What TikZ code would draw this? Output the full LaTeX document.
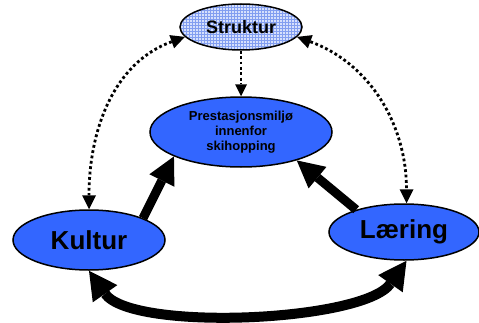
\documentclass[tikz,border=0pt]{standalone}
\usepackage{fontspec}
\setmainfont{Liberation Sans}
\usetikzlibrary{shapes.geometric,arrows.meta,patterns}
\definecolor{nodeblue}{RGB}{51,102,255}
\definecolor{gridbase}{RGB}{214,224,252}
\definecolor{gridline}{RGB}{130,158,240}
\begin{document}
\begin{tikzpicture}[x=1pt,y=1pt,
  oval/.style={ellipse, draw=black, line width=1.5pt, fill=nodeblue,
    inner sep=0pt, align=center},
  dotlink/.style={line width=2.8pt, dash pattern=on 2.8pt off 2.6pt},
  thicklink/.style={line width=9pt}
]
\useasboundingbox (0,0) rectangle (479,322);

% the four themes
\node[oval, fill=none, preaction={fill=gridbase},
  pattern=grid, pattern color=gridline,
  minimum width=122pt, minimum height=46pt,
  font=\fontsize{18}{20}\selectfont\bfseries] (struk) at (241,295) {Struktur};
\node[oval, minimum width=182pt, minimum height=70pt,
  font=\fontsize{13}{15}\selectfont\bfseries] (prest) at (241,190)
  {Prestasjonsmiljø\\innenfor\\skihopping};
\node[oval, minimum width=152pt, minimum height=60pt,
  font=\fontsize{26}{28}\selectfont\bfseries] (kult) at (89,82) {Kultur};
\node[oval, minimum width=150pt, minimum height=56pt,
  font=\fontsize{26}{28}\selectfont\bfseries] (laer) at (404,90) {Læring};

% dotted links from the structure
\draw[dotlink, -{Triangle[length=12pt,width=12pt,line width=0pt]}] (struk.south) -- (prest.north);
\draw[dotlink, {Triangle[length=14pt,width=14pt,line width=0pt]}-{Triangle[length=14pt,width=14pt,line width=0pt]}]
  (struk.190) to[out=200,in=90] (kult.north);
\draw[dotlink, {Triangle[length=14pt,width=14pt,line width=0pt]}-{Triangle[length=14pt,width=14pt,line width=0pt]}]
  (struk.350) to[out=-20,in=90] (laer.85);

% heavy links
\draw[thicklink, -{Triangle[length=27pt,width=28pt,line width=0pt]}] (kult.22) -- (prest.200);
\draw[thicklink, -{Triangle[length=27pt,width=28pt,line width=0pt]}] (laer.155) -- (prest.333);
\draw[line width=10pt, {Triangle[length=28pt,width=30pt,line width=0pt]}-{Triangle[length=28pt,width=30pt,line width=0pt]}]
  (kult.south) to[out=-55,in=-125,looseness=0.6] (laer.275);
\end{tikzpicture}
\end{document}
